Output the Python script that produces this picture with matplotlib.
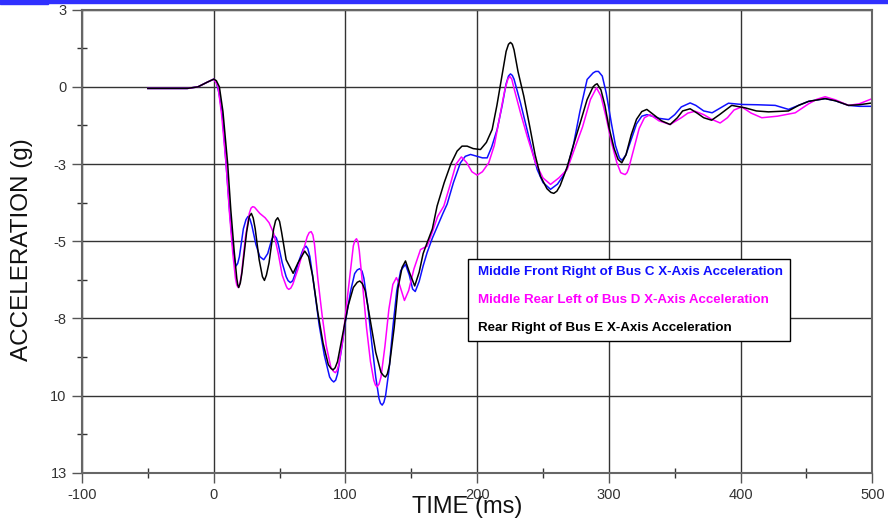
import numpy as np
from matplotlib import pyplot as plt
from matplotlib.patches import Rectangle

# Middle Front Right of Bus C (blue)
t_c = [-50, -20, -12, -5, 0, 2, 4, 6.5, 9.4, 12, 14.5, 16, 17, 18.2, 19.5, 22.5, 24.5, 26, 27.5, 29,
       32, 35, 38, 41, 44, 45, 46.3, 47.6, 49, 52, 55, 56.5, 58.2, 60, 61.5, 65, 68, 70.1, 71.5, 73,
       76, 80, 84, 88, 89.5, 91.1, 92.6, 94, 97, 100, 104, 107, 109, 110.9, 112.6, 114, 117, 120, 123,
       125.5, 126.6, 127.9, 129.2, 130.5, 133, 136, 139, 142, 145.6, 148.5, 151, 153, 156, 159, 162,
       166, 170, 174, 177.2, 182, 187.3, 191, 195, 200, 204, 207.6, 211, 215.2, 219, 222, 223.8,
       225.3, 226.7, 228, 232.9, 238, 242, 245.6, 250, 255.7, 261, 265, 268.3, 273, 278, 283.5, 288,
       290, 292.1, 295, 298, 302, 305, 308, 310, 313, 317, 321, 325, 328.8, 333, 338, 345.3, 350,
       355, 361.7, 366, 372, 378.4, 384, 390.8, 400.9, 413, 426.3, 436.4, 444, 451.6, 464.2, 472,
       481.9, 490, 500]
a_c = [-0.05, -0.05, 0.0, 0.15, 0.25, 0.15, -0.2, -0.9, -2.5, -4.0, -5.2, -5.65, -5.8, -5.72, -5.5,
       -4.6, -4.3, -4.2, -4.28, -4.5, -5.1, -5.5, -5.6, -5.4, -4.95, -4.87, -4.83, -4.9, -5.1, -5.7,
       -6.15, -6.28, -6.34, -6.28, -6.1, -5.6, -5.25, -5.16, -5.25, -5.5, -6.4, -7.7, -8.7, -9.4,
       -9.5, -9.56, -9.5, -9.3, -8.5, -7.6, -6.6, -6.05, -5.93, -5.89, -5.97, -6.2, -7.1, -8.3, -9.4,
       -10.1, -10.25, -10.31, -10.22, -10.0, -9.2, -7.8, -6.6, -5.95, -5.75, -6.1, -6.55, -6.63,
       -6.3, -5.8, -5.37, -4.9, -4.5, -4.1, -3.8, -3.1, -2.46, -2.25, -2.19, -2.25, -2.3, -2.3,
       -1.95, -1.38, -0.6, 0.1, 0.35, 0.42, 0.37, 0.25, -0.52, -1.4, -2.1, -2.68, -3.1, -3.32,
       -3.15, -2.9, -2.63, -1.9, -0.8, 0.24, 0.45, 0.5, 0.5, 0.35, -0.2, -1.2, -1.9, -2.3, -2.38,
       -2.2, -1.7, -1.2, -0.95, -0.9, -0.95, -1.02, -1.06, -0.9, -0.65, -0.52, -0.6, -0.78, -0.84,
       -0.7, -0.53, -0.57, -0.58, -0.6, -0.73, -0.6, -0.47, -0.38, -0.45, -0.6, -0.63, -0.63]

# Middle Rear Left of Bus D (magenta)
t_d = [-50, -20, -12, -5, 0, 2, 3.3, 6, 9.4, 12, 14.5, 16.5, 17.5, 18.6, 19.8, 21, 24, 27, 28.3, 29.6,
       31, 32, 35, 39, 42, 45.6, 49, 52, 55, 55.8, 57, 58.5, 60, 64, 68, 71, 72.5, 74, 75.3, 76.5, 79,
       82.3, 85.5, 89, 91, 92.4, 93.7, 95, 98, 101, 104, 106, 107.2, 108.4, 109.5, 110.5, 113, 116,
       119, 121.5, 122.8, 124, 125.5, 127, 130, 133, 136, 138.7, 141, 144.8, 148, 152, 157, 162, 166,
       170, 174.7, 180, 184, 188, 192, 196, 200, 204, 208.8, 213, 217, 221, 223.3, 224.8, 226.3, 228,
       232.9, 238, 244.3, 250, 255.7, 262, 268.3, 274, 280, 286, 290.6, 294, 298, 302, 306, 309, 311,
       312.4, 313.8, 315, 319, 323, 327, 331.3, 338, 346.5, 355, 360, 365.5, 372, 378, 384.5, 390,
       395, 400.9, 408, 416.1, 428, 441.5, 451.6, 458, 464.2, 472, 481.9, 490, 500]
a_d = [-0.05, -0.05, 0.0, 0.15, 0.25, 0.12, 0.0, -0.9, -2.5, -4.1, -5.4, -6.2, -6.42, -6.5, -6.38,
       -6.1, -4.9, -4.1, -3.93, -3.88, -3.9, -3.95, -4.1, -4.24, -4.4, -4.75, -5.4, -6.1, -6.45,
       -6.52, -6.56, -6.52, -6.4, -5.9, -5.3, -4.85, -4.72, -4.69, -4.8, -5.1, -6.2, -7.4, -8.4,
       -9.1, -9.22, -9.26, -9.18, -9.0, -8.2, -7.0, -5.9, -5.15, -4.98, -4.92, -5.02, -5.3, -6.4,
       -7.8, -8.9, -9.5, -9.66, -9.72, -9.63, -9.4, -8.4, -7.2, -6.4, -6.18, -6.4, -6.92, -6.6,
       -5.9, -5.27, -5.16, -4.7, -4.2, -3.86, -3.1, -2.5, -2.27, -2.45, -2.75, -2.86, -2.75, -2.46,
       -1.9, -1.0, -0.1, 0.25, 0.34, 0.25, -0.05, -0.84, -1.6, -2.46, -2.95, -3.16, -2.95, -2.68,
       -2.0, -1.3, -0.41, -0.03, -0.3, -1.0, -1.8, -2.45, -2.78, -2.82, -2.84, -2.78, -2.65, -2.0,
       -1.35, -1.0, -0.9, -1.1, -1.22, -1.0, -0.85, -0.79, -0.9, -1.05, -1.17, -1.0, -0.75, -0.65,
       -0.85, -1.0, -0.95, -0.84, -0.55, -0.4, -0.32, -0.42, -0.6, -0.55, -0.38]

# Rear Right of Bus E (black)
t_e = [-50, -20, -12, -5, 0, 2, 4.3, 7, 10.6, 13, 15.5, 17.5, 18.3, 19, 20.2, 21.5, 25, 27, 28.6, 30,
       31.5, 34.5, 37, 38.5, 40, 42, 45.5, 47, 48.6, 50, 51.5, 55, 60.3, 64, 69.1, 72, 75, 79, 83, 87,
       89, 90.6, 92.2, 94, 98, 102, 106, 109, 110.9, 112.8, 115, 119, 123, 127, 129, 130.4, 131.8,
       133.5, 137, 140, 143, 145.6, 148.5, 152.6, 156, 159, 162, 166, 169.6, 175, 180, 184.8, 188.5,
       192.4, 197, 202.5, 207, 211.4, 215, 219, 222, 223.8, 225.3, 226.7, 228, 231, 235.4, 240, 244,
       248, 253, 256, 258.2, 260.5, 263, 268.3, 273, 278, 283.5, 288, 289.7, 291.1, 294, 297, 300,
       304, 307, 309.8, 313, 317, 321, 325, 328.8, 334, 340, 346.5, 352, 356, 361.7, 367, 372, 378,
       384, 393.3, 403.5, 412, 421.2, 436.4, 444, 451.6, 464.2, 472, 481.9, 490, 500]
a_e = [-0.05, -0.05, 0.0, 0.15, 0.25, 0.2, 0.0, -0.8, -2.5, -4.0, -5.3, -6.2, -6.42, -6.5, -6.35,
       -6.0, -4.7, -4.2, -4.1, -4.25, -4.6, -5.6, -6.15, -6.27, -6.1, -5.7, -4.6, -4.33, -4.24,
       -4.36, -4.7, -5.6, -6.04, -5.7, -5.32, -5.5, -6.1, -7.3, -8.3, -9.0, -9.12, -9.17, -9.1,
       -8.9, -8.0, -7.1, -6.5, -6.33, -6.29, -6.37, -6.6, -7.6, -8.6, -9.25, -9.36, -9.4, -9.3,
       -9.0, -7.8, -6.5, -5.85, -5.64, -6.0, -6.45, -6.0, -5.4, -5.05, -4.6, -3.86, -3.1, -2.5,
       -2.08, -1.92, -1.92, -2.0, -2.03, -1.8, -1.38, -0.6, 0.4, 1.15, 1.38, 1.44, 1.38, 1.2, 0.5,
       -0.3, -1.3, -2.2, -2.89, -3.3, -3.42, -3.45, -3.38, -3.2, -2.6, -1.9, -1.2, -0.41, 0.0, 0.07,
       0.1, -0.1, -0.6, -1.3, -2.0, -2.35, -2.46, -2.2, -1.55, -1.05, -0.8, -0.73, -0.9, -1.1,
       -1.22, -1.0, -0.78, -0.71, -0.85, -1.0, -1.08, -0.9, -0.6, -0.68, -0.78, -0.81, -0.78, -0.6,
       -0.47, -0.38, -0.45, -0.6, -0.58, -0.52]

labels = ['Middle Front Right of Bus C X-Axis Acceleration',
          'Middle Rear Left of Bus D X-Axis Acceleration',
          'Rear Right of Bus E X-Axis Acceleration']
colors = ['#1010ff', '#ff00ff', '#000000']

x_ticks = [-100, 0, 100, 200, 300, 400, 500]
y_ticks = [2.5, 0, -2.5, -5, -7.5, -10, -12.5]
y_ticklabels = ['3', '0', '-3', '-5', '-8', '10', '13']

plt.rcParams['font.family'] = ['Liberation Sans', 'DejaVu Sans']

fig = plt.figure(figsize=(8.88, 5.22), dpi=100)
ax = fig.add_axes([82/888, 1-472.7/522, 790.3/888, 463/522])

# blue bar on the top edge of the slide
fig.patches.append(Rectangle((0, 1-3/522), 1, 3/522, transform=fig.transFigure,
                             color='#3030ff', zorder=5))
fig.patches.append(Rectangle((0, 1-4/522), 48/888, 4/522, transform=fig.transFigure,
                             color='#3030ff', zorder=5))

series = [(t_c, a_c), (t_d, a_d), (t_e, a_e)]
handles = []
for (t, a), c, lab in zip(series, colors, labels):
    h, = ax.plot(t, a, '-', color=c, lw=1.1, label=lab)
    handles.append(h)

ax.set_xlim(-100, 500)
ax.set_ylim(-12.5, 2.5)
ax.set_xticks(x_ticks)
ax.set_xticklabels([str(v) for v in x_ticks])
ax.set_yticks(y_ticks)
ax.set_yticklabels(y_ticklabels)
ax.set_xticks(np.arange(-50, 500, 100), minor=True)
ax.set_yticks(np.arange(1.25, -12.5, -2.5), minor=True)

ax.tick_params(which='major', direction='out', length=7, width=1, color='#555555',
               labelsize=10.5, labelcolor='#333333', pad=4)
ax.tick_params(which='minor', direction='inout', length=7, width=1, color='#333333')
ax.grid(True, which='major', color='#333333', lw=1)
for s in ax.spines.values():
    s.set_color('#666666')
    s.set_linewidth(1.5)

fig.text(22/888, 1-250/522, 'ACCELERATION (g)', rotation=90, ha='center', va='center',
         fontsize=17.5, color='#111111')
fig.text(466.7/888, 1-513.3/522, 'TIME (ms)', ha='center', va='baseline',
         fontsize=17, color='#111111', zorder=6)

leg = ax.legend(handles=handles, loc='upper left',
                bbox_to_anchor=((468-82)/790.3, 1-(259-9.7)/463), borderaxespad=0,
                handlelength=0, handletextpad=0.25, borderpad=0.52, labelspacing=1.15,
                fancybox=False, framealpha=1, edgecolor='black',
                prop={'size': 9.6, 'weight': 'bold'})
leg.get_frame().set_linewidth(1)
for h in leg.legend_handles:
    h.set_visible(False)
for txt, c in zip(leg.get_texts(), colors):
    txt.set_color(c)

plt.savefig('out.png', dpi=100)
plt.close()
